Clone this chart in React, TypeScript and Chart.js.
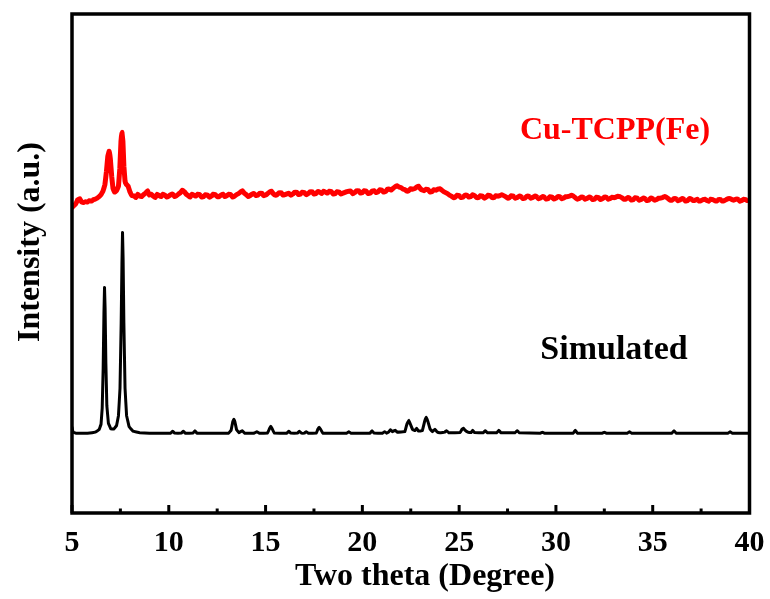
import { useEffect, useRef } from "react";
import { Chart, registerables } from "chart.js";
Chart.register(...registerables);

const X_TICKS = [5, 10, 15, 20, 25, 30, 35, 40];
const LABEL_EXP = "Cu-TCPP(Fe)";
const LABEL_SIM = "Simulated";
const X_TITLE = "Two theta (Degree)";
const Y_TITLE = "Intensity (a.u.)";

const SIM: [number, number][] = [
  [5.0, 17.2], [5.05, 16.2], [5.2, 16.0], [5.8, 16.0], [6.2, 16.2], [6.4, 16.7], [6.5, 17.8], [6.56, 21.0],
  [6.61, 29.0], [6.65, 40.0], [6.68, 45.2], [6.71, 41.0], [6.75, 30.0], [6.8, 21.5], [6.88, 18.0], [7.0, 16.9],
  [7.15, 16.8], [7.3, 17.5], [7.4, 19.5], [7.48, 25.0], [7.54, 38.0], [7.58, 50.0], [7.61, 56.2], [7.64, 51.0],
  [7.68, 38.0], [7.74, 25.0], [7.82, 19.5], [7.95, 17.3], [8.15, 16.4], [8.5, 16.1], [9.0, 16.0], [10.1, 16.0],
  [10.2, 16.4], [10.3, 16.0], [10.65, 16.0], [10.75, 16.4], [10.85, 16.0], [11.25, 16.0], [11.35, 16.5], [11.45, 16.0],
  [13.1, 16.0], [13.22, 16.6], [13.3, 18.2], [13.36, 18.8], [13.42, 18.2], [13.5, 16.7], [13.62, 16.1], [13.8, 16.5],
  [13.92, 16.0], [14.4, 16.0], [14.55, 16.3], [14.68, 16.0], [15.1, 16.0], [15.2, 16.9], [15.27, 17.4], [15.34, 16.9],
  [15.45, 16.0], [16.1, 16.0], [16.2, 16.4], [16.3, 16.0], [16.65, 16.0], [16.75, 16.4], [16.85, 16.0], [17.0, 16.0],
  [17.1, 16.3], [17.2, 16.0], [17.62, 16.0], [17.7, 16.8], [17.77, 17.2], [17.84, 16.8], [17.95, 16.0], [19.2, 16.0],
  [19.3, 16.3], [19.4, 16.0], [20.4, 16.0], [20.5, 16.5], [20.6, 16.0], [21.05, 16.0], [21.15, 16.3], [21.25, 16.0],
  [21.35, 16.2], [21.45, 16.7], [21.55, 16.3], [21.7, 16.6], [21.8, 16.2], [22.2, 16.3], [22.3, 17.8], [22.4, 18.6],
  [22.5, 17.6], [22.6, 16.7], [22.72, 16.5], [22.8, 17.0], [22.9, 16.4], [23.1, 16.5], [23.22, 18.4], [23.3, 19.2],
  [23.38, 18.4], [23.5, 16.8], [23.62, 16.3], [23.75, 16.8], [23.85, 16.3], [24.0, 16.1], [24.25, 16.2], [24.35, 16.5],
  [24.45, 16.1], [25.05, 16.1], [25.15, 16.8], [25.22, 17.0], [25.3, 16.6], [25.45, 16.2], [25.62, 16.1], [25.7, 16.6],
  [25.8, 16.1], [26.25, 16.1], [26.35, 16.5], [26.45, 16.1], [26.95, 16.1], [27.05, 16.6], [27.15, 16.1], [27.9, 16.1],
  [28.0, 16.5], [28.1, 16.1], [29.2, 16.0], [29.3, 16.2], [29.4, 16.0], [30.9, 16.0], [31.0, 16.6], [31.1, 16.0],
  [32.4, 16.0], [32.5, 16.2], [32.6, 16.0], [33.7, 16.0], [33.8, 16.3], [33.9, 16.0], [36.0, 16.0], [36.1, 16.5],
  [36.2, 16.0], [38.9, 16.0], [39.0, 16.3], [39.1, 16.0], [40.0, 16.0],
];

const EXP: [number, number][] = [
  [5.0, 61.2], [5.1, 61.6], [5.2, 62.0], [5.3, 62.8], [5.4, 63.0], [5.5, 62.3], [5.6, 62.2], [5.7, 62.4],
  [5.8, 62.3], [5.9, 62.6], [6.0, 62.5], [6.1, 62.8], [6.2, 62.9], [6.3, 63.1], [6.4, 63.4], [6.5, 63.8],
  [6.6, 64.5], [6.7, 65.8], [6.78, 68.5], [6.85, 71.5], [6.92, 72.5], [6.98, 71.0], [7.05, 67.5], [7.12, 65.0],
  [7.2, 64.3], [7.3, 64.6], [7.4, 65.5], [7.47, 69.0], [7.53, 74.5], [7.58, 76.3], [7.63, 74.5], [7.68, 69.5],
  [7.74, 66.5], [7.8, 65.9], [7.9, 65.5], [8.0, 64.3], [8.1, 63.6], [8.2, 63.6], [8.3, 63.2], [8.4, 63.9], [8.5, 63.5], [8.6, 63.4], [8.7, 63.8],
  [8.8, 64.1], [8.9, 64.6], [9.0, 63.7], [9.1, 63.9], [9.2, 63.5], [9.3, 63.2], [9.4, 63.9], [9.5, 63.6], [9.6, 63.4],
  [9.7, 63.9], [9.8, 63.7], [9.9, 63.3], [10.0, 63.5], [10.1, 63.8], [10.2, 63.9], [10.3, 63.4], [10.4, 63.6],
  [10.5, 63.9], [10.6, 64.2], [10.7, 64.7], [10.8, 64.4], [10.9, 63.9], [11.0, 63.6], [11.1, 63.3], [11.2, 63.9],
  [11.3, 63.7], [11.4, 63.5], [11.5, 63.9], [11.6, 63.8], [11.7, 63.3], [11.8, 63.4], [11.9, 63.8], [12.0, 63.7],
  [12.1, 63.3], [12.2, 63.5], [12.3, 63.9], [12.4, 63.8], [12.5, 63.4], [12.6, 63.4], [12.7, 63.7], [12.8, 63.9],
  [12.9, 63.4], [13.0, 63.6], [13.1, 63.9], [13.2, 63.8], [13.3, 63.3], [13.4, 63.5], [13.5, 63.8], [13.6, 64.0],
  [13.7, 64.3], [13.8, 64.6], [13.9, 64.1], [14.0, 63.8], [14.1, 63.4], [14.2, 63.6], [14.3, 63.9], [14.4, 64.0],
  [14.5, 63.6], [14.6, 63.7], [14.7, 64.1], [14.8, 64.1], [14.9, 63.6], [15.0, 63.7], [15.1, 64.0], [15.2, 64.3],
  [15.3, 64.5], [15.4, 64.0], [15.5, 63.7], [15.6, 63.8], [15.7, 64.2], [15.8, 64.2], [15.9, 63.7], [16.0, 63.8],
  [16.2, 64.1], [16.3, 63.7], [16.4, 63.9], [16.5, 64.3], [16.6, 64.3], [16.7, 63.8], [16.8, 63.9], [16.9, 64.3],
  [17.0, 64.2], [17.1, 63.8], [17.2, 64.0], [17.3, 64.4], [17.4, 64.4], [17.5, 63.9], [17.6, 64.0], [17.7, 64.4],
  [17.8, 64.3], [17.9, 64.0], [18.0, 64.5], [18.1, 64.3], [18.2, 64.1], [18.3, 64.5], [18.4, 64.4], [18.5, 63.9],
  [18.6, 64.0], [18.7, 64.4], [18.8, 64.3], [18.9, 63.9], [19.0, 64.1], [19.2, 64.4], [19.4, 64.5], [19.5, 64.0],
  [19.6, 64.2], [19.7, 64.6], [19.8, 64.6], [19.9, 64.1], [20.0, 64.2], [20.1, 64.6], [20.2, 64.5], [20.3, 64.0],
  [20.4, 64.1], [20.5, 64.5], [20.6, 64.6], [20.7, 64.2], [20.8, 64.3], [20.9, 64.8], [21.0, 64.7], [21.1, 64.3],
  [21.2, 64.4], [21.3, 64.9], [21.4, 64.9], [21.5, 64.7], [21.6, 65.1], [21.7, 65.4], [21.8, 65.6], [21.9, 65.3],
  [22.0, 65.2], [22.1, 64.9], [22.2, 64.8], [22.3, 64.5], [22.4, 64.6], [22.5, 65.0], [22.6, 64.9], [22.7, 65.0],
  [22.8, 65.3], [22.9, 65.5], [23.0, 65.0], [23.1, 64.7], [23.2, 64.6], [23.3, 64.9], [23.4, 64.8], [23.5, 64.3],
  [23.6, 64.4], [23.7, 64.8], [23.8, 64.7], [23.9, 64.9], [24.0, 65.0], [24.1, 64.7], [24.2, 64.4], [24.3, 64.2],
  [24.4, 64.0], [24.5, 63.7], [24.6, 63.5], [24.7, 63.2], [24.8, 63.3], [24.9, 63.7], [25.0, 63.6], [25.1, 63.2],
  [25.2, 63.3], [25.3, 63.7], [25.4, 63.7], [25.5, 63.3], [25.6, 63.4], [25.7, 63.8], [25.8, 63.6], [25.9, 63.2],
  [26.0, 63.2], [26.1, 63.6], [26.2, 63.5], [26.3, 63.1], [26.4, 63.3], [26.5, 63.7], [26.6, 63.6], [26.7, 63.2],
  [26.8, 63.2], [26.9, 63.6], [27.0, 63.5], [27.1, 63.6], [27.2, 63.8], [27.3, 63.6], [27.4, 63.4], [27.5, 63.1],
  [27.6, 63.2], [27.7, 63.6], [27.8, 63.5], [27.9, 63.1], [28.0, 63.2], [28.1, 63.5], [28.2, 63.4], [28.3, 63.0],
  [28.4, 63.1], [28.5, 63.5], [28.6, 63.5], [28.7, 63.1], [28.8, 63.2], [28.9, 63.5], [29.0, 63.4], [29.1, 63.0],
  [29.2, 63.1], [29.3, 63.4], [29.4, 63.3], [29.5, 62.9], [29.6, 63.0], [29.7, 63.4], [29.8, 63.3], [29.9, 62.9],
  [30.0, 63.1], [30.1, 63.4], [30.2, 63.4], [30.3, 63.0], [30.4, 63.1], [30.5, 63.4], [30.6, 63.4], [30.7, 63.5],
  [30.8, 63.7], [30.9, 63.5], [31.0, 63.2], [31.1, 62.9], [31.2, 63.0], [31.3, 63.3], [31.4, 63.3], [31.5, 62.9],
  [31.6, 63.0], [31.7, 63.3], [31.8, 63.2], [31.9, 62.8], [32.0, 62.9], [32.1, 63.3], [32.2, 63.2], [32.3, 62.8],
  [32.4, 63.0], [32.5, 63.3], [32.6, 63.3], [32.7, 62.9], [32.8, 63.0], [32.9, 63.3], [33.0, 63.2], [33.1, 63.3],
  [33.2, 63.5], [33.3, 63.4], [33.4, 63.2], [33.5, 62.9], [33.6, 62.9], [33.7, 63.2], [33.8, 63.1], [33.9, 62.7],
  [34.0, 62.8], [34.1, 63.2], [34.2, 63.1], [34.3, 62.7], [34.4, 62.8], [34.5, 63.1], [34.6, 63.0], [34.7, 62.6],
  [34.8, 62.7], [34.9, 63.1], [35.0, 63.0], [35.1, 62.7], [35.2, 62.8], [35.3, 63.1], [35.4, 63.1], [35.5, 63.2],
  [35.6, 63.4], [35.7, 63.3], [35.8, 63.0], [35.9, 62.7], [36.0, 62.7], [36.1, 63.0], [36.2, 63.0], [36.3, 62.6],
  [36.4, 62.7], [36.5, 63.0], [36.6, 62.9], [36.7, 62.5], [36.8, 62.6], [36.9, 63.0], [37.0, 62.9], [37.1, 62.6],
  [37.2, 62.7], [37.3, 62.9], [37.4, 62.5], [37.5, 62.6], [37.6, 62.8], [37.7, 62.9], [37.8, 62.6], [37.9, 62.5],
  [38.0, 62.9], [38.1, 62.8], [38.2, 62.6], [38.3, 62.5], [38.4, 62.8], [38.5, 62.8], [38.6, 62.5], [38.7, 62.6],
  [38.8, 62.8], [38.9, 63.0], [39.0, 63.0], [39.1, 62.8], [39.2, 62.7], [39.3, 62.9], [39.4, 62.9], [39.5, 62.5],
  [39.6, 62.6], [39.7, 62.9], [39.8, 62.8], [39.9, 62.6], [40.0, 62.7],
];

const FONT = '"Liberation Serif", "Times New Roman", serif';

export default function App() {
  const ref = useRef<HTMLCanvasElement>(null);
  useEffect(() => {
    document.body.style.margin = "0";
    if (!ref.current) return;
    const framePlugin = {
      id: "frame",
      afterDraw(chart: any) {
        const { ctx, chartArea: a, scales } = chart;
        const xs = scales.x;
        ctx.save();
        ctx.strokeStyle = "#000";
        ctx.lineWidth = 3.5;
        ctx.strokeRect(a.left, a.top, a.right - a.left, a.bottom - a.top);
        ctx.lineWidth = 3;
        X_TICKS.forEach((v, i) => {
          const px = xs.getPixelForValue(v);
          ctx.beginPath();
          ctx.moveTo(px, a.bottom);
          ctx.lineTo(px, a.bottom - 8);
          ctx.stroke();
          if (i < X_TICKS.length - 1) {
            const m = xs.getPixelForValue((v + X_TICKS[i + 1]) / 2);
            ctx.beginPath();
            ctx.moveTo(m, a.bottom);
            ctx.lineTo(m, a.bottom - 4.5);
            ctx.stroke();
          }
        });
        ctx.textBaseline = "alphabetic";
        ctx.textAlign = "center";
        ctx.fillStyle = "#ff0000";
        ctx.font = `bold 32px ${FONT}`;
        ctx.fillText(LABEL_EXP, 615, 139);
        ctx.fillStyle = "#000";
        ctx.font = `bold 34px ${FONT}`;
        ctx.fillText(LABEL_SIM, 614, 359);
        ctx.font = `bold 32px ${FONT}`;
        ctx.fillText(X_TITLE, 425, 585);
        ctx.translate(39, 242);
        ctx.rotate(-Math.PI / 2);
        ctx.fillText(Y_TITLE, 0, 0);
        ctx.restore();
      },
    };
    const lineStyle = {
      borderJoinStyle: "round",
      borderCapStyle: "round",
      pointRadius: 0,
      tension: 0.02,
    };
    const chart = new Chart(ref.current, {
      type: "line",
      data: {
        datasets: [
          {
            data: EXP.map(([x, y]) => ({ x, y })),
            borderColor: "#ff0000",
            borderWidth: 5,
            ...lineStyle,
          },
          {
            data: SIM.map(([x, y]) => ({ x, y })),
            borderColor: "#000000",
            borderWidth: 3,
            ...lineStyle,
          },
        ],
      },
      options: {
        responsive: false,
        animation: false,
        devicePixelRatio: 1,
        layout: { padding: { left: 0, top: 14, right: 20.5, bottom: 0 } },
        plugins: { legend: { display: false }, tooltip: { enabled: false } },
        scales: {
          x: {
            type: "linear",
            min: 5,
            max: 40,
            afterBuildTicks: (s: any) => {
              s.ticks = X_TICKS.map((v) => ({ value: v }));
            },
            afterFit: (s: any) => {
              s.height = 86;
              s.paddingLeft = 0;
              s.paddingRight = 0;
            },
            grid: { display: false, drawTicks: false },
            border: { display: false },
            ticks: {
              padding: 12,
              color: "#000",
              maxRotation: 0,
              autoSkip: false,
              font: { family: FONT, size: 30, weight: "bold" },
            },
          },
          y: {
            min: 0,
            max: 100,
            afterFit: (s: any) => {
              s.width = 72;
            },
            grid: { display: false, drawTicks: false },
            border: { display: false },
            ticks: { display: false },
          },
        },
      },
      plugins: [framePlugin],
    } as any);
    return () => chart.destroy();
  }, []);
  return (
    <div style={{ width: 770, height: 599 }}>
      <canvas ref={ref} width={770} height={599} style={{ display: "block" }} />
    </div>
  );
}
